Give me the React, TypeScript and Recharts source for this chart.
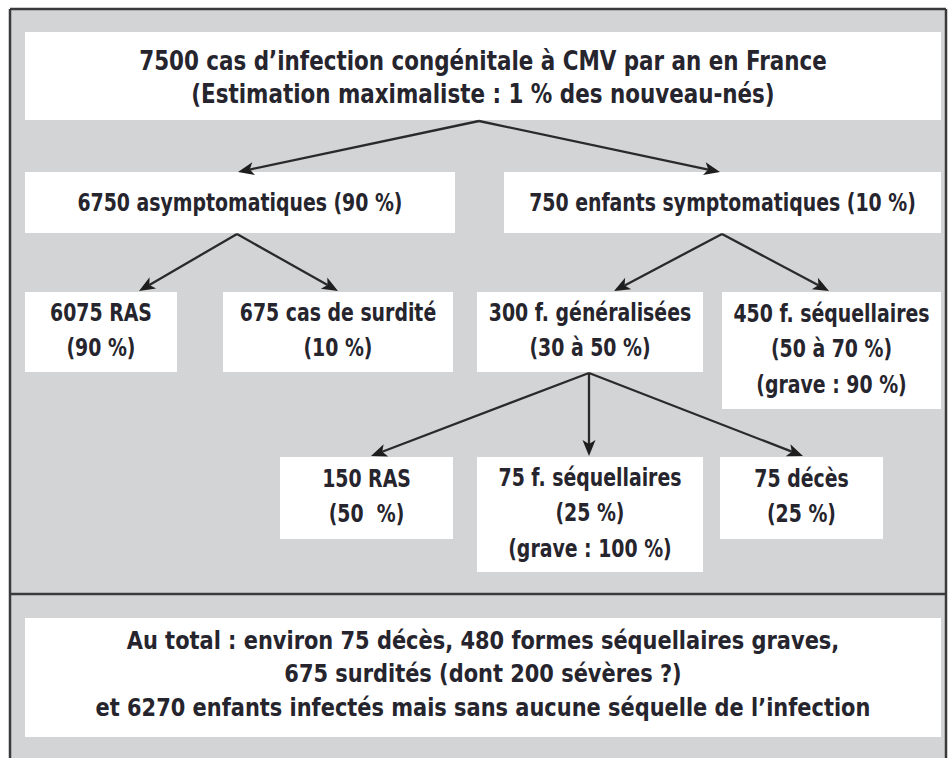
import React from "react";
import { ScatterChart, Scatter, XAxis, YAxis, ReferenceArea, ReferenceLine } from "recharts";

const W = 948;
const H = 758;

// box texts, one entry per box
const NODE_TEXT: string[][] = [
  ["7500 cas d’infection congénitale à CMV par an en France", "(Estimation maximaliste : 1 % des nouveau-nés)"],
  ["6750 asymptomatiques (90 %)"],
  ["750 enfants symptomatiques (10 %)"],
  ["6075 RAS", "(90 %)"],
  ["675 cas de surdité", "(10 %)"],
  ["300 f. généralisées", "(30 à 50 %)"],
  ["450 f. séquellaires", "(50 à 70 %)", "(grave : 90 %)"],
  ["150 RAS", "(50  %)"],
  ["75 f. séquellaires", "(25 %)", "(grave : 100 %)"],
  ["75 décès", "(25 %)"],
  [
    "Au total : environ 75 décès, 480 formes séquellaires graves,",
    "675 surdités (dont 200 sévères ?)",
    "et 6270 enfants infectés mais sans aucune séquelle de l’infection",
  ],
];

// box extents in picture units: x0, x1, y0, y1
const NODE_BOX: number[][] = [
  [25, 941, 32, 120],
  [25, 455, 172, 233],
  [504, 941, 172, 233],
  [25, 177, 292, 372],
  [223, 453, 292, 372],
  [477, 703, 292, 372],
  [722, 941, 292, 409],
  [280, 453, 457, 539],
  [477, 703, 457, 572],
  [720, 883, 457, 539],
  [25, 941, 618, 737],
];

// arrows: start point -> tip point
const ARROWS: number[][] = [
  [479, 121, 238, 172],
  [479, 121, 720, 172],
  [237, 234, 139, 291],
  [237, 234, 338, 291],
  [722, 234, 614, 291],
  [722, 234, 829, 291],
  [589, 373, 371, 456],
  [589, 373, 589, 456],
  [589, 373, 803, 456],
];

// frame lines
const FRAME: number[][] = [
  [10, 9, 946, 9],
  [10, 9, 10, 758],
  [946, 9, 946, 758],
  [10, 594, 946, 594],
];

const FONT = "'DejaVu Sans Condensed', 'DejaVu Sans', sans-serif";
const INK = "#26252e";

const points = NODE_TEXT.map((lines, i) => {
  const [x0, x1, y0, y1] = NODE_BOX[i];
  return { x: (x0 + x1) / 2, y: (y0 + y1) / 2, lines, i };
});

function TextBlock(props: any) {
  const { cx, cy, payload } = props;
  const lines: string[] = payload.lines;
  const isTop = payload.i === 0;
  const isTotal = payload.i === 10;
  const fs = isTop ? 26.5 : 24;
  const sx = isTop ? 0.9 : isTotal ? 0.97 : 0.875;
  const gap = isTop || isTotal ? 33.5 : 35.5;
  const shift = isTop ? 1 : isTotal ? -4 : lines.length > 1 ? -2 : 0;
  const top = cy - ((lines.length - 1) * gap) / 2 + shift;
  return (
    <text
      textAnchor="middle"
      fontFamily={FONT}
      fontWeight="bold"
      fontSize={fs}
      fill={INK}
      transform={`translate(${cx},0) scale(${sx},1) translate(${-cx},0)`}
    >
      {lines.map((l, k) => (
        <tspan key={k} x={cx} y={top + k * gap + fs * 0.36} style={{ whiteSpace: "pre" }}>
          {l}
        </tspan>
      ))}
    </text>
  );
}

function Arrow(props: any) {
  const { x1, y1, x2, y2 } = props;
  const dx = x2 - x1;
  const dy = y2 - y1;
  const len = Math.sqrt(dx * dx + dy * dy);
  const ux = dx / len;
  const uy = dy / len;
  const hl = 16;
  const hw = 6.5;
  const bx = x2 - ux * hl;
  const by = y2 - uy * hl;
  const nx = x2 - ux * (hl - 4);
  const ny = y2 - uy * (hl - 4);
  const pts = [
    [x2, y2],
    [bx - uy * hw, by + ux * hw],
    [nx, ny],
    [bx + uy * hw, by - ux * hw],
  ]
    .map((p) => p.join(","))
    .join(" ");
  return (
    <g>
      <line x1={x1} y1={y1} x2={nx} y2={ny} stroke="#2a2a2a" strokeWidth={2.3} />
      <polygon points={pts} fill="#1e1e1e" />
    </g>
  );
}

export default function App() {
  return (
    <div style={{ position: "absolute", left: 0, top: 0, width: W, height: H, background: "#fff" }}>
      <ScatterChart width={W} height={H} margin={{ top: 0, right: 0, bottom: 0, left: 0 }}>
        <XAxis type="number" dataKey="x" domain={[0, W]} hide allowDataOverflow />
        <YAxis type="number" dataKey="y" domain={[0, H]} reversed hide allowDataOverflow />
        <ReferenceArea x1={10} x2={946} y1={9} y2={H} fill="#d3d4d6" fillOpacity={1} stroke="none" ifOverflow="visible" />
        {NODE_BOX.map(([x0, x1, y0, y1], i) => (
          <ReferenceArea
            key={`b${i}`}
            x1={x0}
            x2={x1}
            y1={y0}
            y2={y1}
            fill="#ffffff"
            fillOpacity={1}
            stroke="none"
            ifOverflow="visible"
          />
        ))}
        {FRAME.map(([a, b, c, d], i) => (
          <ReferenceLine
            key={`f${i}`}
            segment={[{ x: a, y: b }, { x: c, y: d }]}
            stroke="#3a3a3a"
            strokeWidth={2.5}
            ifOverflow="visible"
          />
        ))}
        {ARROWS.map(([a, b, c, d], i) => (
          <ReferenceLine
            key={`a${i}`}
            segment={[{ x: a, y: b }, { x: c, y: d }]}
            ifOverflow="visible"
            shape={(p: any) => <Arrow {...p} />}
          />
        ))}
        <Scatter data={points} isAnimationActive={false} shape={(p: any) => <TextBlock {...p} />} />
      </ScatterChart>
    </div>
  );
}
